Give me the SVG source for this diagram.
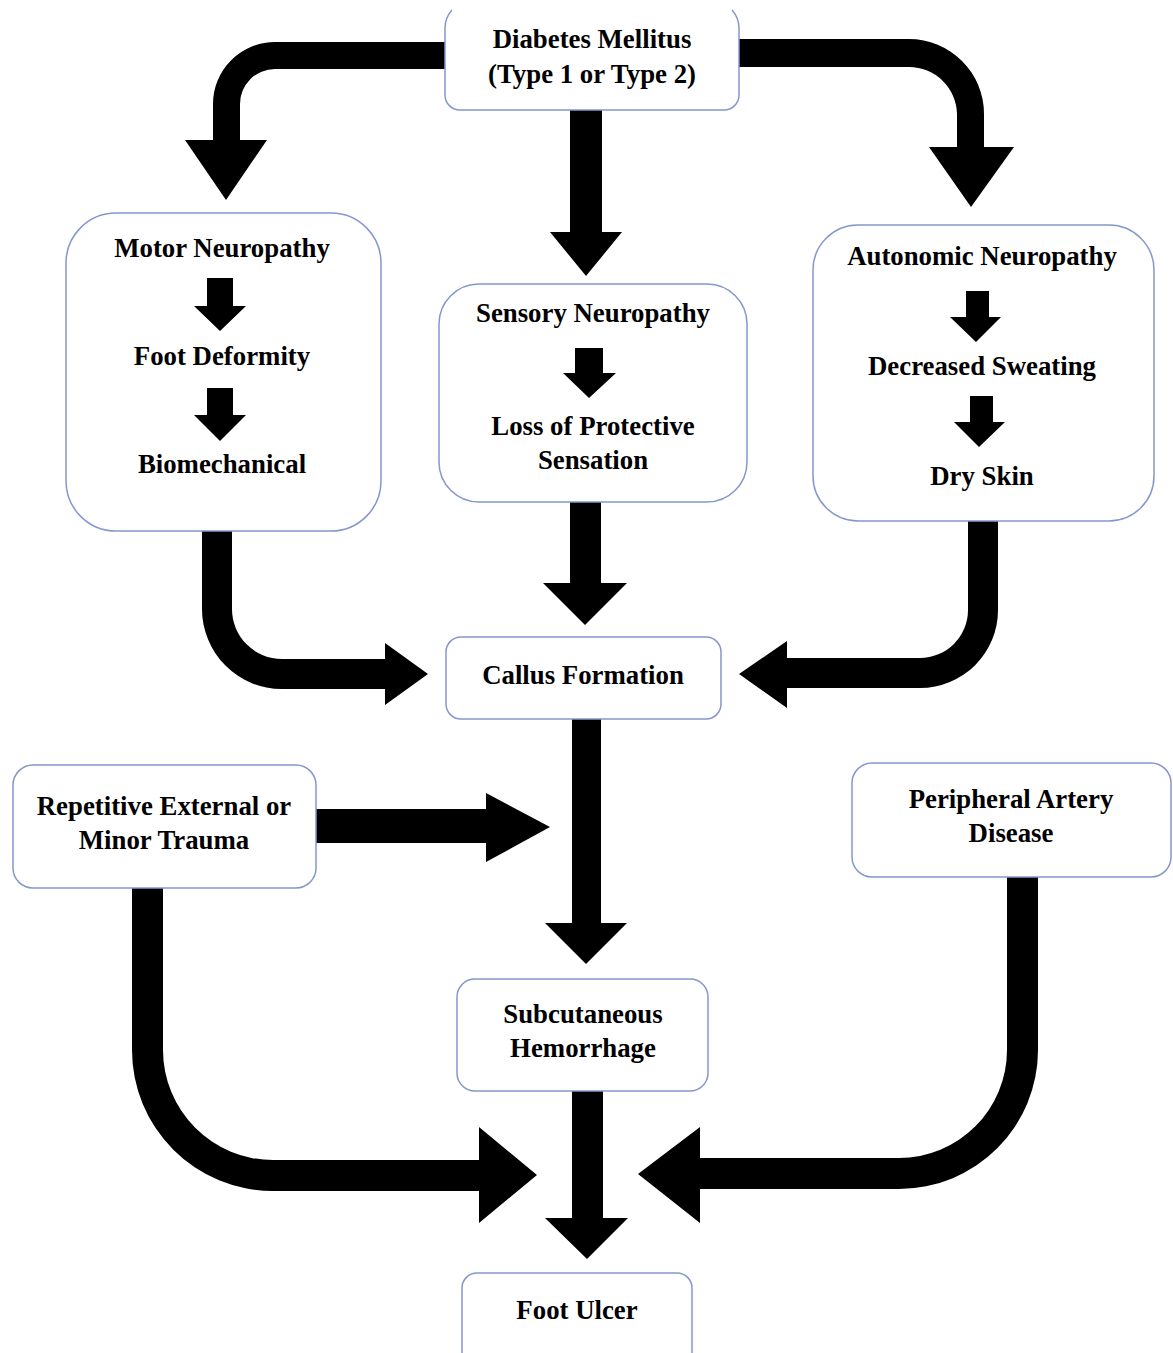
<svg xmlns="http://www.w3.org/2000/svg" width="1173" height="1353" viewBox="0 0 1173 1353">
<style>
.box{fill:#fff;stroke:#8597cc;stroke-width:1.5}
.t{font-family:"Liberation Serif","Times New Roman",serif;font-weight:bold;font-size:26.8px;fill:#000;text-anchor:middle}
.c{fill:#000}
</style>
<rect width="1173" height="1353" fill="#fff"/>
<g id="connectors">
<path class="c" d="M 445 42 L 275 42 A 62 62 0 0 0 213 104 L 213 140 L 185 140 L 226 200 L 267 140 L 240 140 L 240 104 A 35 35 0 0 1 275 69 L 445 69 Z"/>
<path class="c" d="M 570 110 L 602 110 L 602 232 L 622 232 L 586 276 L 550 232 L 570 232 Z"/>
<path class="c" d="M 739 39 L 909 39 A 75 75 0 0 1 984 114 L 984 147 L 1014 147 L 971 207 L 929 147 L 957 147 L 957 114 A 48 48 0 0 0 909 67 L 739 67 Z"/>
<path class="c" d="M 202 531 L 202 609 A 80 80 0 0 0 282 689 L 385 689 L 385 705 L 428 674 L 385 643 L 385 659 L 282 659 A 50 50 0 0 1 232 609 L 232 531 Z"/>
<path class="c" d="M 570 501 L 601 501 L 601 583 L 627 583 L 585 625 L 543 583 L 570 583 Z"/>
<path class="c" d="M 998 521 L 998 610 A 78 78 0 0 1 920 688 L 787 688 L 787 708 L 739 674 L 787 641 L 787 658 L 920 658 A 48 48 0 0 0 968 610 L 968 521 Z"/>
<path class="c" d="M 572 719 L 601 719 L 601 923 L 627 923 L 586 964 L 545 923 L 572 923 Z"/>
<path class="c" d="M 316 809 L 486 809 L 486 793 L 550 827 L 486 862 L 486 843 L 316 843 Z"/>
<path class="c" d="M 572 1091 L 603 1091 L 603 1218 L 628 1218 L 587 1259 L 545 1218 L 572 1218 Z"/>
<path class="c" d="M 132 888 L 132 1050 A 141 141 0 0 0 273 1191 L 479 1191 L 479 1223 L 537 1175 L 479 1127 L 479 1160 L 273 1160 A 110 110 0 0 1 163 1050 L 163 888 Z"/>
<path class="c" d="M 1038 877 L 1038 1050 A 139 139 0 0 1 899 1189 L 700 1189 L 700 1223 L 638 1174 L 700 1127 L 700 1158 L 899 1158 A 108 108 0 0 0 1007 1050 L 1007 877 Z"/>
</g>
<g id="diabetes">
<path class="box" d="M 452 10 Q 445 18 445 28 L 445 95 A 15 15 0 0 0 460 110 L 724 110 A 15 15 0 0 0 739 95 L 739 28 Q 739 18 732 10"/>
<text class="t" x="592" y="48">Diabetes Mellitus</text>
<text class="t" x="592" y="83">(Type 1 or Type 2)</text>
</g>
<g id="motor">
<rect class="box" x="66" y="213" width="315" height="318" rx="50"/>
<text class="t" x="222" y="257">Motor Neuropathy</text>
<polygon class="c" points="207,278 233,278 233,306 246,306 220,331 194,306 207,306"/>
<text class="t" x="222" y="365">Foot Deformity</text>
<polygon class="c" points="207,388 233,388 233,415 246,415 220,441 194,415 207,415"/>
<text class="t" x="222" y="473">Biomechanical</text>
</g>
<g id="sensory">
<rect class="box" x="439" y="284" width="308" height="218" rx="40"/>
<text class="t" x="593" y="322">Sensory Neuropathy</text>
<polygon class="c" points="575,348 603,348 603,373 616,373 589,398 563,373 575,373"/>
<text class="t" x="593" y="435">Loss of Protective</text>
<text class="t" x="593" y="469">Sensation</text>
</g>
<g id="autonomic">
<rect class="box" x="813" y="225" width="341" height="296" rx="45"/>
<text class="t" x="982" y="265">Autonomic Neuropathy</text>
<polygon class="c" points="966,291 989,291 989,317 1001,317 976,342 950,317 966,317"/>
<text class="t" x="982" y="375">Decreased Sweating</text>
<polygon class="c" points="970,396 993,396 993,422 1005,422 979,447 954,422 970,422"/>
<text class="t" x="982" y="485">Dry Skin</text>
</g>
<g id="callus">
<rect class="box" x="446" y="637" width="275" height="82" rx="15"/>
<text class="t" x="583" y="684">Callus Formation</text>
</g>
<g id="trauma">
<rect class="box" x="13" y="765" width="303" height="123" rx="20"/>
<text class="t" x="164" y="815">Repetitive External or</text>
<text class="t" x="164" y="849">Minor Trauma</text>
</g>
<g id="pad">
<rect class="box" x="852" y="763" width="319" height="114" rx="20"/>
<text class="t" x="1011" y="808">Peripheral Artery</text>
<text class="t" x="1011" y="842">Disease</text>
</g>
<g id="hemorrhage">
<rect class="box" x="457" y="979" width="251" height="112" rx="18"/>
<text class="t" x="583" y="1023">Subcutaneous</text>
<text class="t" x="583" y="1057">Hemorrhage</text>
</g>
<g id="ulcer">
<path class="box" d="M 462 1353 L 462 1288 A 15 15 0 0 1 477 1273 L 677 1273 A 15 15 0 0 1 692 1288 L 692 1353"/>
<text class="t" x="577" y="1319">Foot Ulcer</text>
</g>
</svg>
